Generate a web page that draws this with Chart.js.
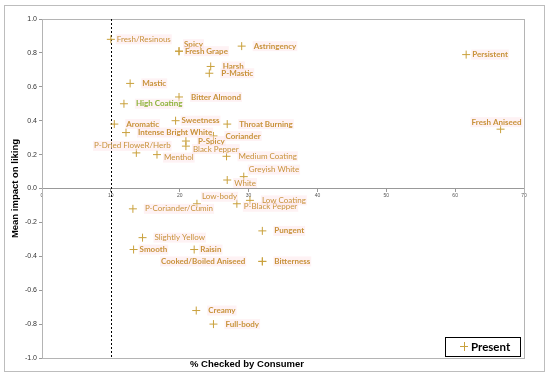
<!DOCTYPE html>
<html>
<head>
<meta charset="utf-8">
<script src="https://cdn.jsdelivr.net/npm/chart.js@4.4.1/dist/chart.umd.min.js"></script>
<style>
  html, body { margin: 0; padding: 0; background: #fff; }
  #wrap { width: 550px; height: 378px; }
</style>
</head>
<body>
<div id="wrap"><canvas id="chart" width="550" height="378"></canvas></div>
<script>
// attribute names and their (% checked, mean impact) values
const names = [
  "Fresh/Resinous", "Spicy", "Fresh Grape", "Astringency", "Harsh", "P-Mastic",
  "Mastic", "Bitter Almond", "High Coating", "Aromatic", "Sweetness",
  "Throat Burning", "Intense Bright White", "Coriander", "P-Spicy",
  "Black Pepper", "P-Dried FloweR/Herb", "Menthol", "Medium Coating",
  "Greyish White", "White", "Persistent", "Fresh Aniseed", "Low-body",
  "P-Coriander/Cumin", "P-Black Pepper", "Low Coating", "Pungent",
  "Slightly Yellow", "Smooth", "Raisin", "Cooked/Boiled Aniseed",
  "Bitterness", "Creamy", "Full-body"
];
const pctChecked = [
  10.0, 19.9, 19.9, 29.0, 24.5, 24.3,
  12.8, 19.9, 11.9, 10.5, 19.4,
  26.9, 12.2, 24.9, 20.9,
  20.9, 13.7, 16.7, 26.8,
  29.3, 26.9, 61.6, 66.6, 22.5,
  13.2, 28.3, 30.2, 32.0,
  14.6, 13.3, 22.1, 32.0,
  32.0, 22.4, 24.9
];
const meanImpact = [
  0.88, 0.81, 0.81, 0.84, 0.72, 0.68,
  0.62, 0.54, 0.50, 0.38, 0.40,
  0.38, 0.33, 0.31, 0.28,
  0.25, 0.21, 0.20, 0.19,
  0.07, 0.05, 0.79, 0.35, -0.09,
  -0.12, -0.09, -0.07, -0.25,
  -0.29, -0.36, -0.36, -0.43,
  -0.43, -0.72, -0.80
];
const xTicks = [0, 10, 20, 30, 40, 50, 60, 70];
const yTicks = [-1.0, -0.8, -0.6, -0.4, -0.2, 0.0, 0.2, 0.4, 0.6, 0.8, 1.0];
const cutoff = 10; // dashed reference line

// label styling (kept apart from the data)
const boldNames = [
  "Spicy", "Fresh Grape", "Astringency", "Harsh", "P-Mastic", "Mastic",
  "Bitter Almond", "High Coating", "Aromatic", "Sweetness", "Throat Burning",
  "Intense Bright White", "Coriander", "P-Spicy", "Persistent", "Fresh Aniseed",
  "Pungent", "Smooth", "Raisin", "Cooked/Boiled Aniseed", "Bitterness",
  "Creamy", "Full-body"
];
const greenNames = ["High Coating"];
// r = right, n = right close, ra = right above, rb = right below, a = above, l = left
const anchors = [
  "n", "ra", "n", "r", "r", "r",
  "r", "r", "r", "r", "n",
  "r", "r", "r", "r",
  "rb", "a", "rb", "r",
  "ra", "rb", "n", "a", "ra",
  "r", "rb", "r", "r",
  "r", "n", "n", "l",
  "r", "r", "r"
];

const CROSS = "#c9a13c";
const LABEL = "#c8923a";
const GREEN = "#8db33a";
const LABEL_FONT = "Lato, 'Open Sans', sans-serif";

const OFFS = {
  r: [12, 0, "left"], n: [6, 0, "left"], ra: [5, -7, "left"],
  rb: [7, 3, "left"], a: [-4, -7, "center"], l: [-17, 0, "right"]
};

const framePlugin = {
  id: "frame",
  beforeDraw(chart) {
    const { ctx } = chart;
    ctx.save();
    ctx.fillStyle = "#fff";
    ctx.fillRect(0, 0, chart.width, chart.height);
    ctx.strokeStyle = "#bdbdbd";
    ctx.lineWidth = 1;
    ctx.strokeRect(4.5, 5.5, 540, 366);
    ctx.restore();
  },
  beforeDatasetsDraw(chart) {
    const { ctx, chartArea: a, scales } = chart;
    ctx.save();
    ctx.strokeStyle = "#b4b4b4";
    ctx.lineWidth = 1;
    ctx.strokeRect(Math.round(a.left) + 0.5, Math.round(a.top) + 0.5,
      Math.round(a.right - a.left), Math.round(a.bottom - a.top));
    const xp = Math.round(scales.x.getPixelForValue(cutoff)) + 0.5;
    ctx.strokeStyle = "#000";
    ctx.setLineDash([2, 2]);
    ctx.beginPath();
    ctx.moveTo(xp, a.top);
    ctx.lineTo(xp, a.bottom);
    ctx.stroke();
    ctx.restore();
  },
  afterDatasetsDraw(chart) {
    const { ctx, scales } = chart;
    ctx.save();
    ctx.textBaseline = "middle";
    names.forEach((n, i) => {
      const px = scales.x.getPixelForValue(pctChecked[i]);
      const py = scales.y.getPixelForValue(meanImpact[i]);
      const [dx, dy, align] = OFFS[anchors[i]];
      const bold = boldNames.includes(n);
      ctx.font = (bold ? "bold " : "") + "8px " + LABEL_FONT;
      ctx.textAlign = align;
      const w = ctx.measureText(n).width;
      let x0 = px + dx;
      if (align === "center") x0 -= w / 2;
      if (align === "right") x0 -= w;
      ctx.fillStyle = "rgba(252, 226, 230, 0.45)";
      ctx.fillRect(x0 - 1, py + dy - 5, w + 2, 10);
      ctx.fillStyle = greenNames.includes(n) ? GREEN : LABEL;
      ctx.fillText(n, px + dx, py + dy);
    });
    ctx.restore();
  },
  afterDraw(chart) {
    const { ctx, chartArea: a } = chart;
    ctx.save();
    ctx.fillStyle = "#000";
    ctx.font = "bold 9.5px 'Liberation Sans', Arial, sans-serif";
    ctx.textAlign = "center";
    ctx.textBaseline = "middle";
    ctx.fillText("% Checked by Consumer", 247, 364);
    ctx.translate(15, (a.top + a.bottom) / 2);
    ctx.rotate(-Math.PI / 2);
    ctx.fillText("Mean impact on liking", 0, 0);
    ctx.restore();

    // legend box
    ctx.save();
    ctx.fillStyle = "#fff";
    ctx.fillRect(445, 337, 75, 19);
    ctx.strokeStyle = "#000";
    ctx.lineWidth = 1;
    ctx.strokeRect(445.5, 337.5, 75, 19);
    ctx.strokeStyle = CROSS;
    ctx.beginPath();
    ctx.moveTo(460, 346.5); ctx.lineTo(468, 346.5);
    ctx.moveTo(464.5, 342); ctx.lineTo(464.5, 351);
    ctx.stroke();
    ctx.fillStyle = "#000";
    ctx.font = "bold 11.5px " + LABEL_FONT;
    ctx.textBaseline = "middle";
    ctx.fillText(chart.data.datasets[0].label, 471, 347);
    ctx.restore();
  }
};

new Chart(document.getElementById("chart"), {
  type: "scatter",
  data: {
    datasets: [{
      label: "Present",
      data: names.map((n, i) => ({ x: pctChecked[i], y: meanImpact[i] })),
      pointStyle: "cross",
      pointRadius: 4,
      pointHoverRadius: 4,
      borderColor: CROSS,
      backgroundColor: CROSS,
      borderWidth: 1
    }]
  },
  options: {
    responsive: false,
    animation: false,
    events: [],
    layout: { padding: { top: 19, right: 26, bottom: 20, left: 0 } },
    scales: {
      x: {
        type: "linear",
        min: 0,
        max: 70,
        position: { y: 0 },
        afterBuildTicks: (s) => { s.ticks = xTicks.map(v => ({ value: v })); },
        afterFit: (s) => { s.height = 0; },
        ticks: {
          color: "#555",
          padding: 1,
          font: { size: 5, family: "'Liberation Sans', Arial, sans-serif" }
        },
        grid: { drawOnChartArea: false, tickLength: 3, color: "#999" },
        border: { color: "#999" }
      },
      y: {
        type: "linear",
        min: -1,
        max: 1,
        afterBuildTicks: (s) => { s.ticks = yTicks.map(v => ({ value: v })); },
        afterFit: (s) => { s.width = 42; },
        ticks: {
          color: "#333",
          padding: 2,
          font: { size: 7, family: "'Liberation Sans', Arial, sans-serif" },
          callback: (v) => Number(v).toFixed(1)
        },
        grid: { drawOnChartArea: false, tickLength: 3, color: "#999" },
        border: { color: "#999" }
      }
    },
    plugins: {
      legend: { display: false },
      tooltip: { enabled: false }
    }
  },
  plugins: [framePlugin]
});
</script>
</body>
</html>
